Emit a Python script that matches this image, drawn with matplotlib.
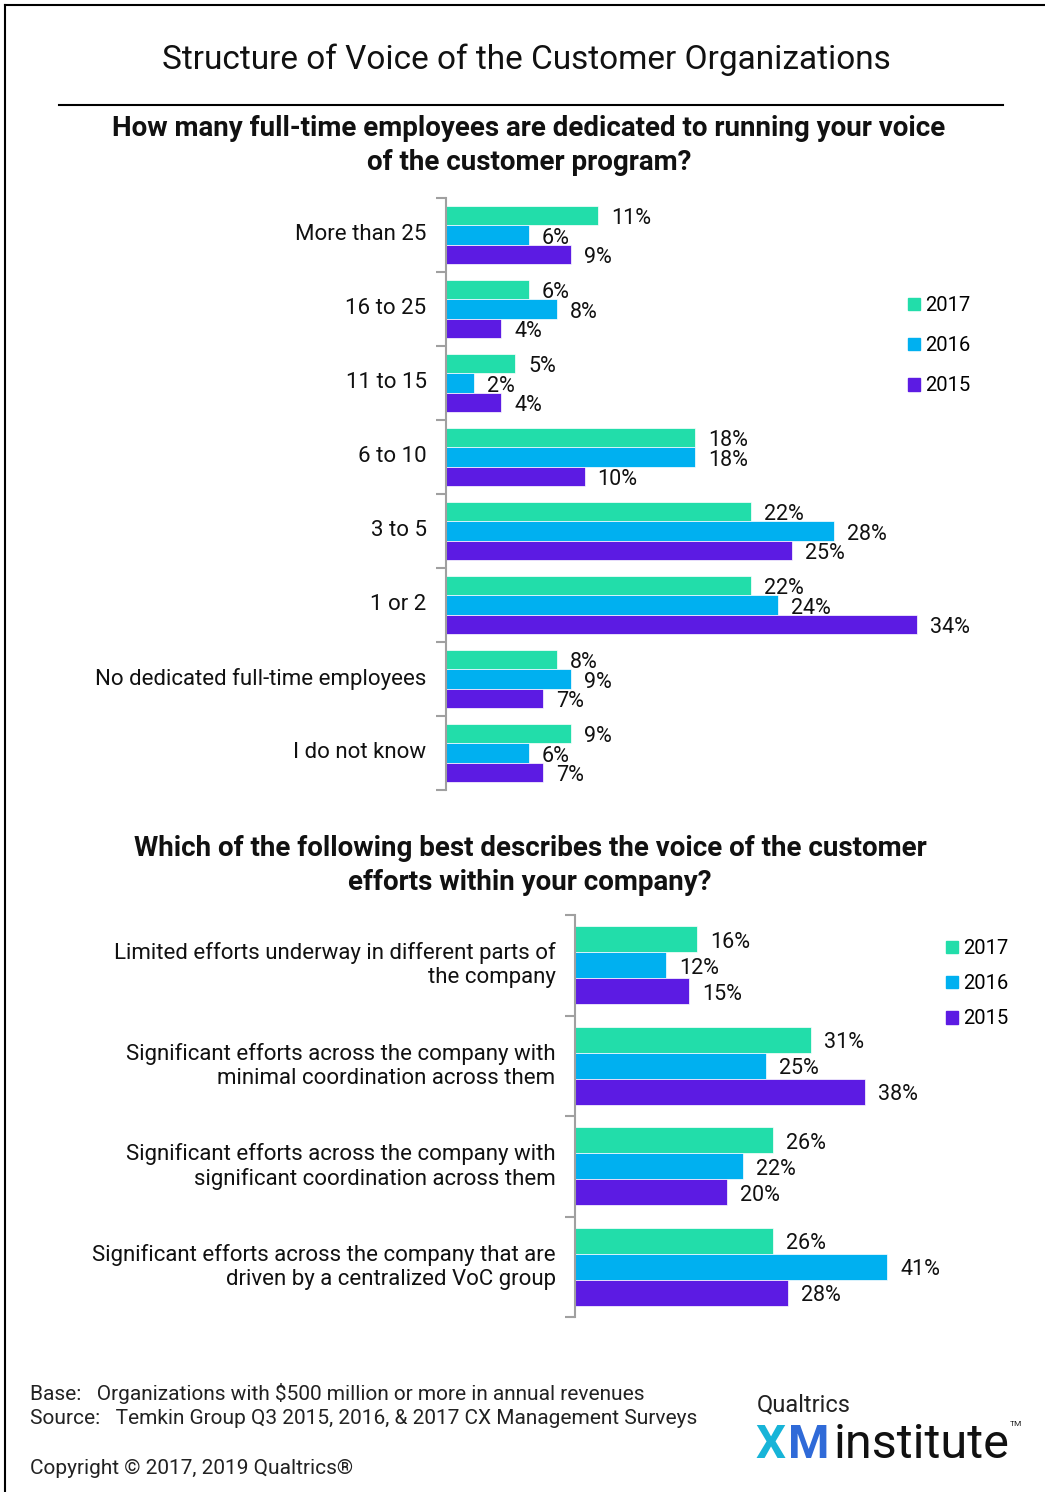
import numpy as np
import matplotlib
matplotlib.use("Agg")
import matplotlib.pyplot as plt
from matplotlib.lines import Line2D
from matplotlib.patches import Patch

plt.rcParams['font.family'] = ['Roboto', 'DejaVu Sans']

# ---- data ----
years = ["2017", "2016", "2015"]
colors = ["#22DDAA", "#00B0F0", "#5C1BE3"]

q1_cats = ["More than 25", "16 to 25", "11 to 15", "6 to 10", "3 to 5", "1 or 2",
           "No dedicated full-time employees", "I do not know"]
q1_2017 = [11, 6, 5, 18, 22, 22, 8, 9]
q1_2016 = [6, 8, 2, 18, 28, 24, 9, 6]
q1_2015 = [9, 4, 4, 10, 25, 34, 7, 7]

q2_cats = ["Limited efforts underway in different parts of\nthe company",
           "Significant efforts across the company with\nminimal coordination across them",
           "Significant efforts across the company with\nsignificant coordination across them",
           "Significant efforts across the company that are\ndriven by a centralized VoC group"]
q2_2017 = [16, 31, 26, 26]
q2_2016 = [12, 25, 22, 41]
q2_2015 = [15, 38, 20, 28]

W, H = 1045, 1492
fig = plt.figure(figsize=(W / 100, H / 100), dpi=100)


def px_rect(x0, y0, x1, y1):
    return [x0 / W, 1 - y1 / H, (x1 - x0) / W, (y1 - y0) / H]


def bar_panel(ax, cats, series, bh, cat_size, val_size, xmax):
    n = len(cats)
    y = np.arange(n)
    for i, (vals, c) in enumerate(zip(series, colors)):
        pos = y + (i - 1) * bh
        bars = ax.barh(pos, vals, height=bh, color=c, edgecolor='white', linewidth=0.5)
        for b, v in zip(bars, vals):
            ax.annotate(f"{v}%", (b.get_width(), b.get_y() + b.get_height() / 2),
                        xytext=(13, -3), textcoords='offset pixels',
                        va='center', ha='left', fontsize=val_size, color='#111111')
    ax.set_xlim(0, xmax)
    ax.set_ylim(n - 0.5, -0.5)
    ax.set_yticks(np.arange(n + 1) - 0.5)
    ax.set_yticklabels([])
    ax.set_yticks(y, minor=True)
    ax.set_yticklabels(cats, minor=True, fontsize=cat_size, color='#111111',
                       linespacing=1.2, va='center')
    ax.tick_params(axis='y', which='major', length=7, width=1.5, color='#A0A0A0', direction='out')
    ax.tick_params(axis='y', which='minor', length=0, pad=14)
    ax.set_xticks([])
    for s in ['top', 'right', 'bottom']:
        ax.spines[s].set_visible(False)
    ax.spines['left'].set_color('#A0A0A0')
    ax.spines['left'].set_linewidth(1.5)


# ---- panel 1 ----
ax1 = fig.add_axes(px_rect(446, 198, 1000, 790))
bar_panel(ax1, q1_cats, [q1_2017, q1_2016, q1_2015], 0.257, 16, 15.5, (1000 - 446) / 13.85)
h = [Patch(color=c, label=l) for c, l in zip(colors, years)]
ax1.legend(handles=h, loc='upper left', bbox_to_anchor=((900 - 446) / 554, 1 - 90 / 592),
           frameon=False, fontsize=14.5, handlelength=0.6, handleheight=0.6,
           handletextpad=0.25, labelspacing=1.05, borderaxespad=0)

# ---- panel 2 ----
ax2 = fig.add_axes(px_rect(575, 915, 1000, 1317))
bar_panel(ax2, q2_cats, [q2_2017, q2_2016, q2_2015], 0.26, 16, 15.5, (1000 - 575) / 7.62)
ax2.legend(handles=h, loc='upper left', bbox_to_anchor=((938 - 575) / 425, 1 - 16 / 402),
           frameon=False, fontsize=14.5, handlelength=0.6, handleheight=0.6,
           handletextpad=0.25, labelspacing=0.8, borderaxespad=0)

# ---- titles ----
fig.text(526 / W, 1 - 60 / H, "Structure of Voice of the Customer Organizations",
         ha='center', va='center', fontsize=24, color='#111111')
fig.add_artist(Line2D([59 / W, 1003 / W], [1 - 105 / H] * 2, color='black', lw=1.5))
qkw = dict(ha='center', va='center', fontsize=20, fontweight='bold', color='#111111')
fig.text(529 / W, 1 - 129 / H, "How many full-time employees are dedicated to running your voice", **qkw)
fig.text(529 / W, 1 - 162 / H, "of the customer program?", **qkw)
fig.text(530 / W, 1 - 849 / H, "Which of the following best describes the voice of the customer", **qkw)
fig.text(530 / W, 1 - 883 / H, "efforts within your company?", **qkw)

# ---- footer ----
fkw = dict(ha='left', va='center', fontsize=15, color='#222222')
fig.text(30 / W, 1 - 1393 / H, "Base:   Organizations with $500 million or more in annual revenues", **fkw)
fig.text(30 / W, 1 - 1418 / H, "Source:   Temkin Group Q3 2015, 2016, & 2017 CX Management Surveys", **fkw)
fig.text(30 / W, 1 - 1469 / H, "Copyright \u00a9 2017, 2019 Qualtrics\u00ae", **fkw)

# ---- logo ----
fig.text(757 / W, 1 - 1405 / H, "Qualtrics", ha='left', va='center', fontsize=17, color='#222222')
fig.text(755 / W, 1 - 1445 / H, "X", ha='left', va='center', fontsize=34, fontweight='bold',
         color='#17B4D8')
fig.text(788 / W, 1 - 1445 / H, "M", ha='left', va='center', fontsize=34, fontweight='bold',
         color='#2F6AD8')
fig.text(834 / W, 1 - 1445 / H, "institute", ha='left', va='center', fontsize=35, color='#111111')
fig.text(1010 / W, 1 - 1424 / H, "TM", ha='left', va='center', fontsize=6, color='#222222')

# ---- frame ----
fig.add_artist(Line2D([5 / W, 5 / W], [0, 1 - 5 / H], color='black', lw=1.5))
fig.add_artist(Line2D([5 / W, 1], [1 - 5 / H] * 2, color='black', lw=1.5))

fig.savefig("out.png", dpi=100)
